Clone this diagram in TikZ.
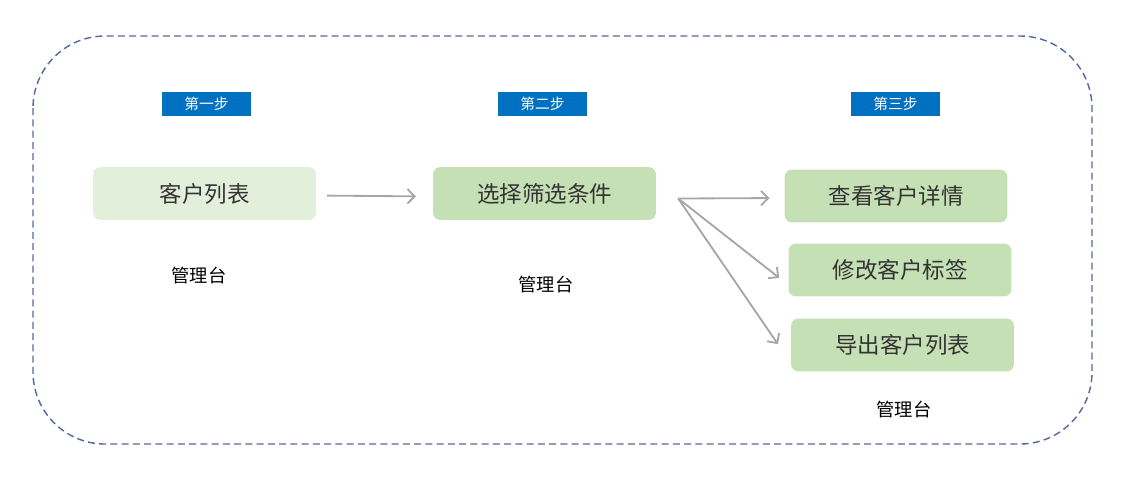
\documentclass[tikz,border=0pt]{standalone}
\usepackage{fontspec}
\setmainfont{Noto Sans CJK SC}
\usepackage{tikz}
\usetikzlibrary{arrows.meta, positioning, calc}
\definecolor{stepblue}{HTML}{0070C0}
\definecolor{framecol}{HTML}{5468A0}
\definecolor{lightgreen}{HTML}{E2EFDA}
\definecolor{midgreen}{HTML}{C5E0B4}
\definecolor{arrowgray}{HTML}{A6A6A6}
\begin{document}
\begin{tikzpicture}[x=0.025cm, y=-0.025cm,
  stepbox/.style={fill=stepblue, text=white, minimum width=2.22cm, minimum height=0.6cm, inner sep=0pt, font=\fontsize{10.5}{12}\selectfont},
  taskbox/.style={rounded corners=0.18cm, minimum width=5.57cm, minimum height=1.32cm, inner sep=0pt, text=black!80, font=\fontsize{16}{18}\selectfont},
  console/.style={font=\fontsize{13}{15}\selectfont},
  flow/.style={draw=arrowgray, line width=1.3pt, -{Straight Barb[length=1.8mm, width=3.6mm, line width=1.3pt]}}]
  \useasboundingbox (0,0) rectangle (1122,476);
  \draw[framecol, line width=1pt, dash pattern=on 5pt off 3pt, rounded corners=1.8cm] (33,36) rectangle (1092,444);
  % steps
  \node[stepbox] (s1) at (206.5,104) {第一步};
  \node[stepbox] (s2) at (542.5,104) {第二步};
  \node[stepbox] (s3) at (895.5,104) {第三步};
  % tasks
  \node[taskbox, fill=lightgreen] (list) at (204.5,193.5) {客户列表};
  \node[taskbox, fill=midgreen] (filter) at (544.5,193.5) {选择筛选条件};
  \node[taskbox, fill=midgreen] (view) at (896,196) {查看客户详情};
  \node[taskbox, fill=midgreen] (tag) at (900,270) {修改客户标签};
  \node[taskbox, fill=midgreen] (export) at (902.5,345) {导出客户列表};
  % consoles
  \node[console] (c1) at (199,276) {管理台};
  \node[console] (c2) at (546,285) {管理台};
  \node[console] (c3) at (904,410) {管理台};
  % arrows
  \coordinate (fan) at ($(filter.east)+(22,5)$);
  \draw[flow, shorten <=0.27cm, shorten >=0.42cm] ($(list.east)+(0,2)$) -- ($(filter.west)+(0,3)$);
  \draw[flow, shorten >=0.37cm] (fan) -- ($(view.west)+(0,2)$);
  \draw[flow, shorten >=0.29cm] (fan) -- ($(tag.west)+(0,15)$);
  \draw[flow, shorten >=0.57cm] (fan) -- ($(export.west)+(0,18)$);
\end{tikzpicture}
\end{document}
